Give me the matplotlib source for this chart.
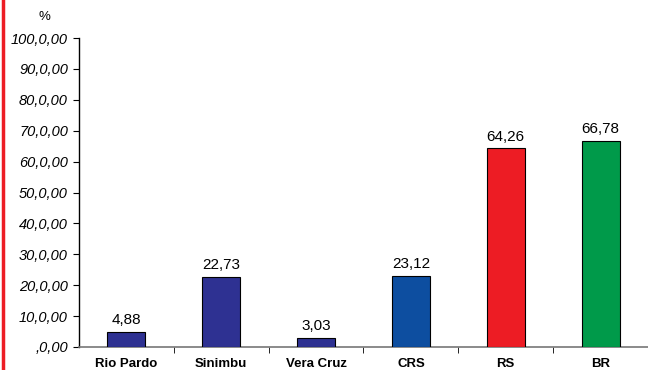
import matplotlib.pyplot as plt
from matplotlib.lines import Line2D
from matplotlib.ticker import FixedLocator

categorias = ['Rio Pardo', 'Sinimbu', 'Vera Cruz', 'CRS', 'RS', 'BR']
valores = [4.88, 22.73, 3.03, 23.12, 64.26, 66.78]
cores = ['#2e3192', '#2e3192', '#2e3192', '#0d4ea0', '#ed1c24', '#009a4a']
ticks_y = [0, 10, 20, 30, 40, 50, 60, 70, 80, 90, 100]
rotulos_y = [',0,00', '10,0,00', '20,0,00', '30,0,00', '40,0,00', '50,0,00',
             '60,0,00', '70,0,00', '80,0,00', '90,0,00', '100,0,00']

plt.rcParams['font.family'] = ['Liberation Sans', 'DejaVu Sans']

fig = plt.figure(figsize=(6.48, 3.70), dpi=100)
ax = fig.add_axes([0.1219, 0.0622, 0.8781, 0.835])

x = range(len(categorias))
ax.bar(x, valores, width=0.4, color=cores, edgecolor='black', linewidth=0.8, zorder=3)

# rotulos de valor acima das barras
for i, v in enumerate(valores):
    ax.text(i, v + 1.6, f'{v:.2f}'.replace('.', ','), ha='center', va='bottom',
            fontsize=11)

ax.set_xlim(-0.5, 5.5)
ax.set_ylim(0, 100)
ax.set_yticks(ticks_y)
ax.set_yticklabels(rotulos_y, fontstyle='italic', fontsize=10.5)
ax.set_xticks(list(x))
ax.set_xticklabels(categorias, fontweight='bold', fontsize=9.5)
ax.tick_params(axis='x', length=0, pad=8)
ax.xaxis.set_minor_locator(FixedLocator([0.5, 1.5, 2.5, 3.5, 4.5, 5.5]))
ax.tick_params(axis='x', which='minor', length=4, direction='out', color='black')
ax.tick_params(axis='y', length=4, direction='out', pad=4)

for lado in ['top', 'right']:
    ax.spines[lado].set_visible(False)
ax.spines['bottom'].set_color('#777777')
ax.spines['bottom'].set_linewidth(1.2)
ax.spines['left'].set_linewidth(1.0)

fig.text(0.069, 0.953, '%', ha='center', va='center', fontsize=9.5)

# barra vermelha na margem esquerda
fig.add_artist(Line2D([0.004, 0.004], [0, 1], color='#ed1c24', linewidth=2.5,
                      transform=fig.transFigure))

fig.savefig('out.png', dpi=100)
